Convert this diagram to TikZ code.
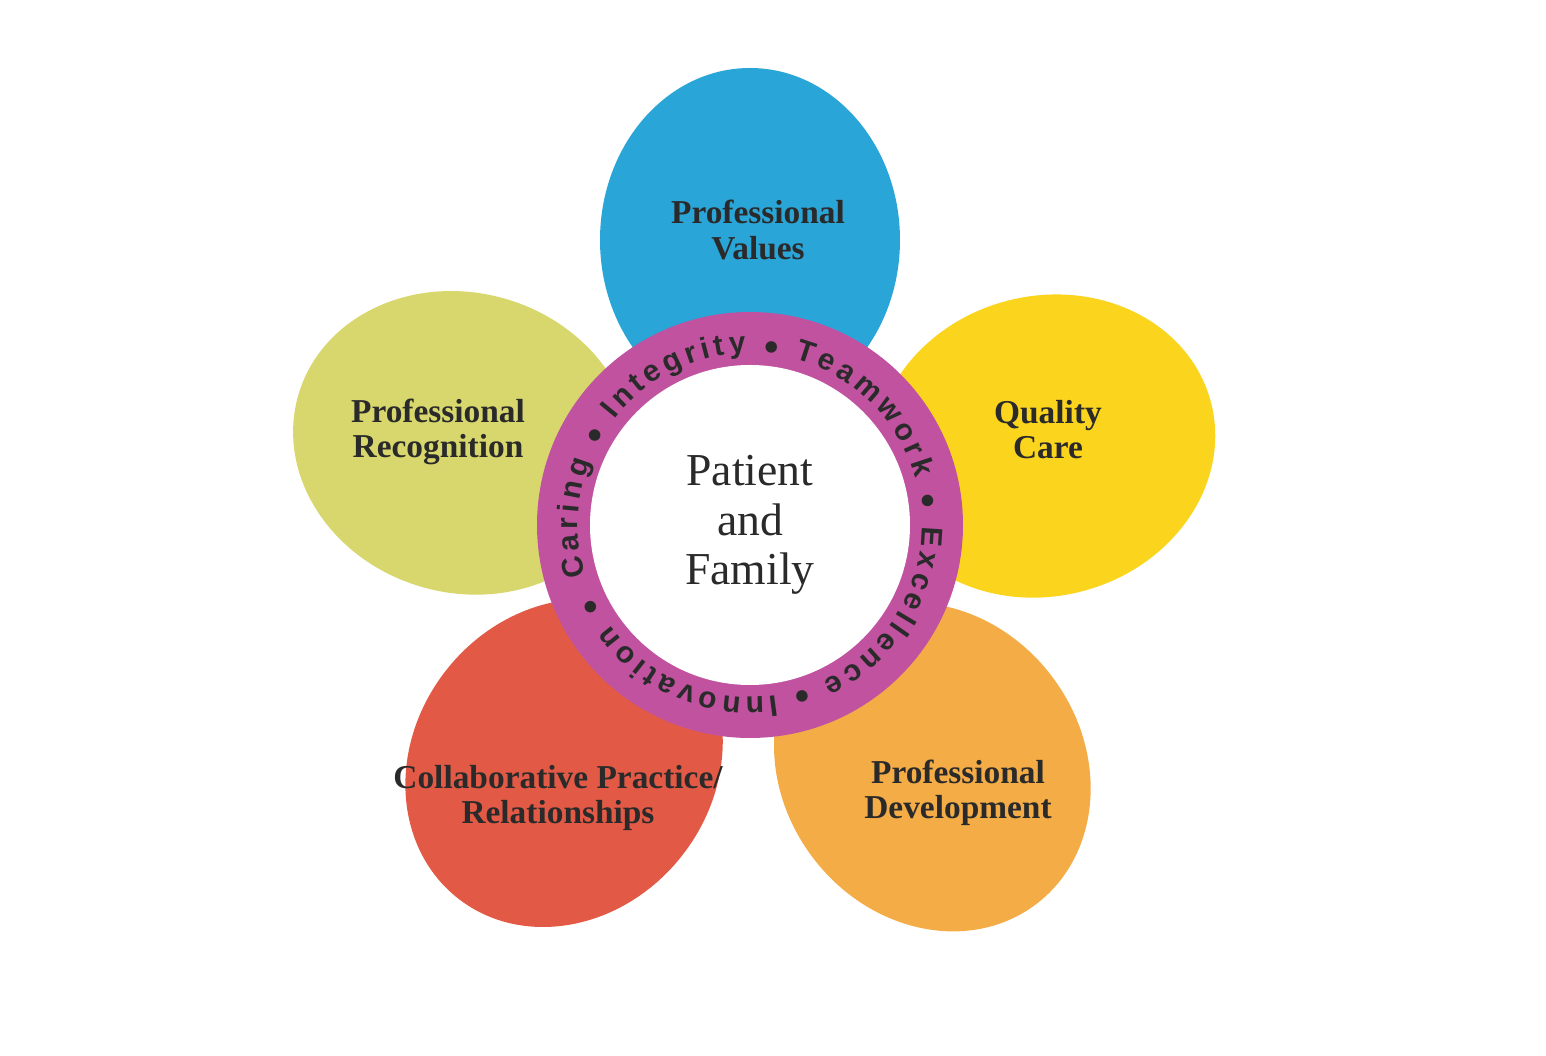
\documentclass[tikz,border=0pt]{standalone}
\usepackage{fontspec}
\setmainfont{Liberation Serif}
\setsansfont{Liberation Sans}
\usetikzlibrary{decorations.text}
\definecolor{pblue}{HTML}{1A9FD6}
\definecolor{pyellow}{HTML}{FBD20C}
\definecolor{polive}{HTML}{D6D463}
\definecolor{pred}{HTML}{E04E38}
\definecolor{porange}{HTML}{F4A63A}
\definecolor{pmag}{HTML}{C052A0}
\definecolor{ptext}{HTML}{2A2A2A}
\begin{document}
\begin{tikzpicture}[
  petal/.style={fill opacity=0.93},
  lab/.style={align=center,font=\fontsize{9.5}{10}\selectfont\bfseries,text=ptext}]
\useasboundingbox[fill=white] (0,0) rectangle (15.46,10.56);
\coordinate (c) at (7.50,5.31);
\foreach \a/\d/\col in {164/2.98/polive,232/3.02/pred,307/3.03/porange,15/3.05/pyellow,90/2.85/pblue}{
  \fill[\col,petal,shift={(c)},rotate=\a] (\d,0) ellipse[x radius=1.72,y radius=1.5];
}
\fill[pmag] (c) circle[radius=2.13];
\fill[white] (c) circle[radius=1.6];
\path[decorate,decoration={text along path,text align={fit to path},
  text={|\sffamily\bfseries\fontsize{8.5}{9}\selectfont\color{ptext}|Caring  {$\bullet$}  Integrity  {$\bullet$}  Teamwork  {$\bullet$}  Excellence  {$\bullet$}  Innovation  {$\bullet$}}}]
  (c) ++(197:1.72) arc[start angle=197,end angle=-155,radius=1.72];
\node[align=center,font=\fontsize{13}{14}\selectfont,text=ptext] (center) at (c) {Patient\\and\\Family};
\node[lab] (pv) at (7.58,8.26) {Professional\\Values};
\node[lab] (qc) at (10.48,6.26) {Quality\\Care};
\node[lab] (pr) at (4.38,6.24) {Professional\\Recognition};
\node[lab] (cp) at (5.58,2.58) {Collaborative Practice/\\Relationships};
\node[lab] (pd) at (9.58,2.63) {Professional\\Development};
\end{tikzpicture}
\end{document}
